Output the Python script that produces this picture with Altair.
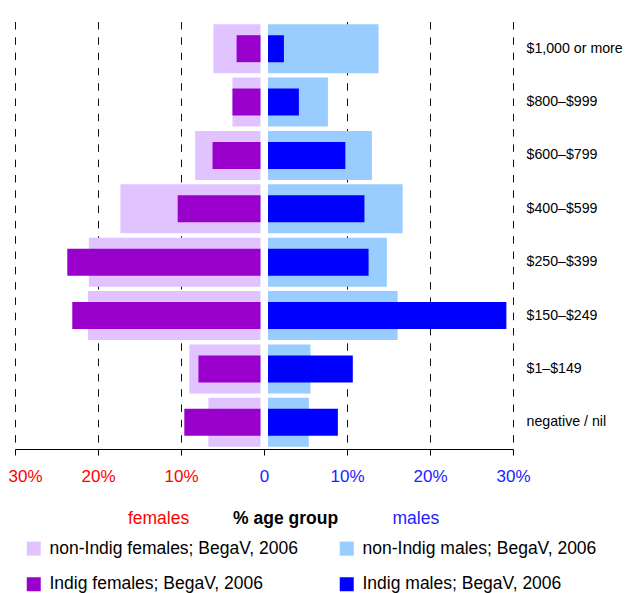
import altair as alt
import pandas as pd

categories = ["$1,000 or more", "$800\u2013$999", "$600\u2013$799", "$400\u2013$599",
              "$250\u2013$399", "$150\u2013$249", "$1\u2013$149", "negative / nil"]

nonindig_females = [6.1, 3.8, 8.3, 17.3, 21.1, 21.2, 9.0, 6.7]
indig_females = [3.3, 3.8, 6.2, 10.4, 23.7, 23.1, 7.9, 9.6]
nonindig_males = [13.8, 7.7, 13.0, 16.7, 14.8, 16.1, 5.6, 5.4]
indig_males = [2.4, 4.2, 9.8, 12.1, 12.6, 29.2, 10.7, 8.9]

# legend fills column-major: col 1 = non-Indig females / Indig females
series_names = ["non-Indig females; BegaV, 2006", "Indig females; BegaV, 2006",
                "non-Indig males; BegaV, 2006", "Indig males; BegaV, 2006"]
series_colors = ["#E1C4FF", "#9900CC", "#99CCFF", "#0000FF"]

grid_values = [-30, -20, -10, 10, 20, 30]
tick_values = [-30, -20, -10, 0, 10, 20, 30]

annot_text = ["females", "% age group", "males"]
annot_x = [-12.7, 2.6, 18.3]
annot_color = ["#FF0000", "#000000", "#2222FF"]
annot_weight = ["normal", "bold", "normal"]

FONT = "Liberation Sans"
W, H = 498, 427


def frame(values, name, sign):
    return pd.DataFrame({
        "category": categories,
        "value": [sign * v for v in values],
        "zero": 0,
        "series": name,
    })


light_f = frame(nonindig_females, series_names[0], -1)
dark_f = frame(indig_females, series_names[1], -1)
light_m = frame(nonindig_males, series_names[2], 1)
dark_m = frame(indig_males, series_names[3], 1)

xscale = alt.Scale(domain=[-30, 30], nice=False, zero=False, padding=0)
yscale = alt.Scale(domain=categories, paddingInner=0, paddingOuter=0)
cscale = alt.Scale(domain=series_names, range=series_colors)

x_axis = alt.Axis(
    values=tick_values, grid=False, domain=True, domainColor="#000000",
    ticks=True, tickColor="#000000", tickSize=6,
    labelExpr="datum.value == 0 ? '0' : abs(datum.value) + '%'",
    labelColor={"condition": {"test": "datum.value < 0", "value": "#FF0000"}, "value": "#2222FF"},
    labelAlign={"condition": {"test": "datum.value == -30", "value": "left"}, "value": "center"},
    labelOffset={"condition": {"test": "datum.value == -30", "value": -7}, "value": 0},
    labelFont=FONT, labelFontSize=17, labelPadding=13, labelFlush=False,
    title=None,
)
y_axis = alt.Axis(
    orient="right", domain=False, ticks=False, labelPadding=13,
    labelFont=FONT, labelFontSize=14.2, labelColor="#000000", labelAlign="left",
    title=None,
)

legend = alt.Legend(
    orient="none", legendX=10, legendY=517.5, columns=2, title=None,
    symbolType="square", symbolSize=196, symbolStrokeWidth=0,
    labelFont=FONT, labelFontSize=17.5, labelColor="#000000", labelLimit=400,
    labelOffset=7, columnPadding=40, rowPadding=17, symbolOpacity=1,
)

X = lambda f: alt.X(f, scale=xscale, axis=x_axis)


def bars(df, size, off):
    return alt.Chart(df).mark_bar(size=size, x2Offset=off, opacity=1).encode(
        x=X("value:Q"),
        x2="zero:Q",
        y=alt.Y("category:N", scale=yscale, sort=categories, axis=y_axis),
        color=alt.Color("series:N", scale=cscale, legend=legend),
    )


grid_df = pd.DataFrame({"g": grid_values})
grid = alt.Chart(grid_df).mark_rule(
    color="#111111", strokeWidth=1, strokeDash=[7.5, 7.8], xOffset=0.5
).encode(
    x=X("g:Q"),
    y=alt.value(0), y2=alt.value(H),
)

annot_df = pd.DataFrame({"t": annot_text, "x": annot_x})
annots = []
for i in range(3):
    annots.append(
        alt.Chart(annot_df.iloc[[i]]).mark_text(
            font=FONT, fontSize=17.5, color=annot_color[i], fontWeight=annot_weight[i],
            baseline="middle", align="center",
        ).encode(x=X("x:Q"), y=alt.value(497), text="t:N")
    )

chart = alt.layer(
    grid,
    bars(light_f, 49, -3.5),
    bars(light_m, 49, 4),
    bars(dark_f, 27, -3.5),
    bars(dark_m, 27, 4),
    *annots,
).properties(
    width=W, height=H,
    autosize=alt.AutoSizeParams(type="none"),
    padding={"left": 7, "top": 14, "right": 110, "bottom": 144},
).configure_view(stroke=None)

chart.save("out.html", embed_options={"renderer": "svg", "actions": False})
